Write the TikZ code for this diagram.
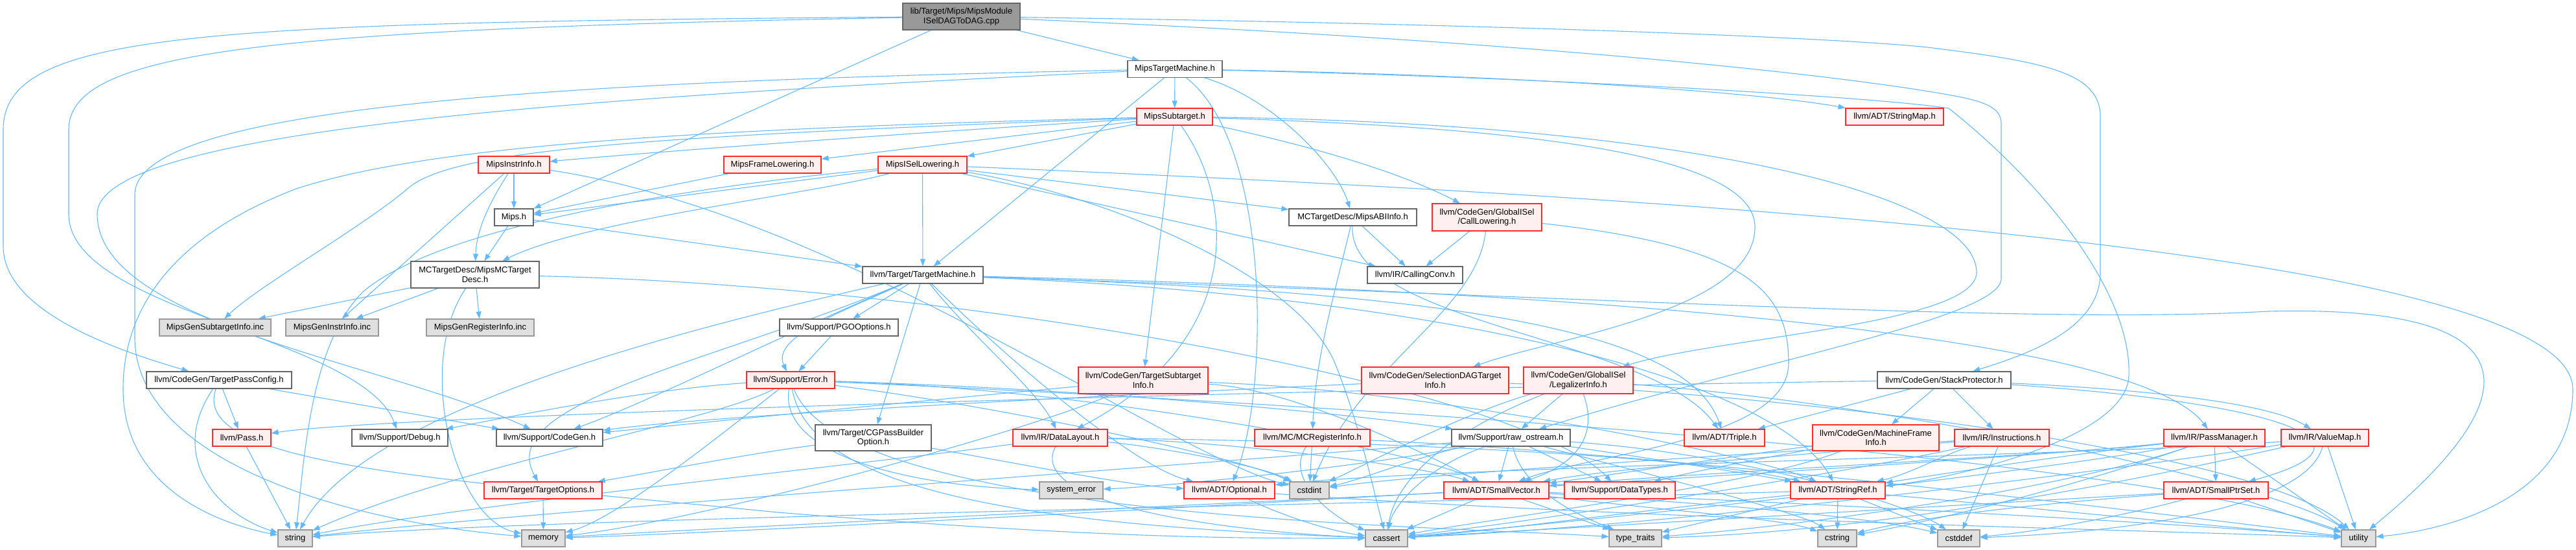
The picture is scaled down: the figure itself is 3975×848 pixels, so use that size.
\documentclass[tikz,border=0pt]{standalone}
\usepackage{fontspec}
\setmainfont{Liberation Sans}
\usetikzlibrary{arrows.meta}
\definecolor{linkblue}{HTML}{63B8FF}
\definecolor{rimred}{HTML}{FF2A2A}
\definecolor{redfill}{HTML}{FFF0F0}
\definecolor{rimgrey}{HTML}{666666}
\definecolor{sysrim}{HTML}{999999}
\definecolor{sysfill}{HTML}{E0E0E0}
\pgfdeclarelayer{background}
\pgfsetlayers{background,main}

\begin{document}
\begin{tikzpicture}[x=1pt, y=-1pt, font=\fontsize{13}{14.5}\selectfont,
  box/.style={draw=rimgrey, fill=white, line width=1.2pt, minimum height=26pt,
              inner sep=1pt, align=center},
  redbox/.style={box, draw=rimred, fill=redfill},
  sysbox/.style={box, draw=sysrim, fill=sysfill},
  rootbox/.style={box, fill=sysrim},
  arr/.style={-{Triangle[length=11pt,width=8pt]}, line width=1.1pt, draw=linkblue}
]
\useasboundingbox (0,0) rectangle (3975,848);

\node[rootbox, minimum width=181pt, minimum height=41pt] (root) at (1483.5,25.5) {lib/Target/Mips/MipsModule\\ISelDAGToDAG.cpp};
\node[box, minimum width=146pt] (mtm) at (1813,106.5) {MipsTargetMachine.h};
\node[redbox, minimum width=117pt] (sub) at (1812.5,180) {MipsSubtarget.h};
\node[redbox, minimum width=151pt] (smap) at (2923.5,180) {llvm/ADT/StringMap.h};
\node[redbox, minimum width=110pt] (iinfo) at (793,254) {MipsInstrInfo.h};
\node[redbox, minimum width=150pt] (frame) at (1192,254) {MipsFrameLowering.h};
\node[redbox, minimum width=137pt] (isel) at (1423.5,254) {MipsISelLowering.h};
\node[box, minimum width=60pt] (mipsh) at (793,335) {Mips.h};
\node[box, minimum width=198pt, minimum height=41pt] (mcdesc) at (733,423.5) {MCTargetDesc/MipsMCTarget\\Desc.h};
\node[sysbox, minimum width=172pt] (gsub) at (332,505) {MipsGenSubtargetInfo.inc};
\node[sysbox, minimum width=143pt] (ginstr) at (512.5,505) {MipsGenInstrInfo.inc};
\node[sysbox, minimum width=166pt] (greg) at (741,505) {MipsGenRegisterInfo.inc};
\node[box, minimum width=186pt] (tm) at (1424,424) {llvm/Target/TargetMachine.h};
\node[box, minimum width=183pt] (pgo) at (1294.5,505) {llvm/Support/PGOOptions.h};
\node[box, minimum width=197pt] (abi) at (2087.5,335) {MCTargetDesc/MipsABIInfo.h};
\node[redbox, minimum width=169pt, minimum height=42pt] (callow) at (2294.5,335) {llvm/CodeGen/GlobalISel\\/CallLowering.h};
\node[box, minimum width=147pt] (ccv) at (2183.5,424) {llvm/IR/CallingConv.h};
\node[box, minimum width=224pt] (tpc) at (338,586) {llvm/CodeGen/TargetPassConfig.h};
\node[redbox, minimum width=90pt] (pass) at (373,675) {llvm/Pass.h};
\node[box, minimum width=148pt] (debug) at (617,675) {llvm/Support/Debug.h};
\node[box, minimum width=164pt] (cgen) at (848,675) {llvm/Support/CodeGen.h};
\node[redbox, minimum width=182pt] (topt) at (838,756) {llvm/Target/TargetOptions.h};
\node[sysbox, minimum width=53pt] (string) at (455.5,830) {string};
\node[sysbox, minimum width=67pt] (memory) at (838.5,830) {memory};
\node[redbox, minimum width=136pt] (error) at (1220,586) {llvm/Support/Error.h};
\node[redbox, minimum width=200pt, minimum height=41pt] (tsi) at (1764,586.5) {llvm/CodeGen/TargetSubtarget\\Info.h};
\node[box, minimum width=179pt, minimum height=40pt] (cgpb) at (1347.5,675) {llvm/Target/CGPassBuilder\\Option.h};
\node[redbox, minimum width=146pt] (dl) at (1636,675) {llvm/IR/DataLayout.h};
\node[sysbox, minimum width=98pt] (syserr) at (1653,756) {system\_error};
\node[redbox, minimum width=140pt] (opt) at (1897,756) {llvm/ADT/Optional.h};
\node[redbox, minimum width=178pt] (mcreg) at (2025,675) {llvm/MC/MCRegisterInfo.h};
\node[redbox, minimum width=227pt, minimum height=41pt] (sdag) at (2214.5,586.5) {llvm/CodeGen/SelectionDAGTarget\\Info.h};
\node[redbox, minimum width=169pt, minimum height=41pt] (legal) at (2435.5,586.5) {llvm/CodeGen/GlobalISel\\/LegalizerInfo.h};
\node[box, minimum width=206pt] (stack) at (3000,586) {llvm/CodeGen/StackProtector.h};
\node[box, minimum width=183pt] (raw) at (2331.5,675) {llvm/Support/raw\_ostream.h};
\node[redbox, minimum width=124pt] (triple) at (2661,675) {llvm/ADT/Triple.h};
\node[redbox, minimum width=195pt, minimum height=40pt] (mfi) at (2894.5,675) {llvm/CodeGen/MachineFrame\\Info.h};
\node[sysbox, minimum width=61pt] (cstdint) at (2020.5,756) {cstdint};
\node[redbox, minimum width=162pt] (svec) at (2309,756) {llvm/ADT/SmallVector.h};
\node[redbox, minimum width=171pt] (dtypes) at (2499.5,756) {llvm/Support/DataTypes.h};
\node[redbox, minimum width=146pt] (sref) at (2836,756) {llvm/ADT/StringRef.h};
\node[sysbox, minimum width=65pt] (cassert) at (2139.5,830) {cassert};
\node[sysbox, minimum width=81pt] (ttraits) at (2523.5,830) {type\_traits};
\node[sysbox, minimum width=60pt] (cstring) at (2835,830) {cstring};
\node[redbox, minimum width=146pt] (instr) at (3089,675) {llvm/IR/Instructions.h};
\node[redbox, minimum width=156pt] (pm) at (3417,675) {llvm/IR/PassManager.h};
\node[redbox, minimum width=135pt] (vmap) at (3587.5,675) {llvm/IR/ValueMap.h};
\node[redbox, minimum width=161pt] (sptr) at (3419.5,756) {llvm/ADT/SmallPtrSet.h};
\node[sysbox, minimum width=65pt] (cstddef) at (3022.5,830) {cstddef};
\node[sysbox, minimum width=53pt] (utility) at (3639.5,830) {utility};

\begin{pgfonlayer}{background}
\draw[arr] (root) .. controls (300,35) and (5,50) .. (5,200) -- (5,380) .. controls (5,480) and (180,540) .. (tpc);
\draw[arr] (root) .. controls (400,45) and (106,80) .. (106,200) -- (106,330) .. controls (106,480) and (560,520) .. (debug);
\draw[arr] (root) -- (mipsh);
\draw[arr] (root) -- (mtm);
\draw[arr] (root) .. controls (2200,35) and (2800,55) .. (2975,73) .. controls (3150,95) and (3241,110) .. (3241,180) -- (3241,420) .. controls (3241,500) and (3150,540) .. (stack);
\draw[arr] (root) .. controls (2300,60) and (2800,110) .. (3000,145) .. controls (3060,155) and (3088,165) .. (3088,190) -- (3088,430) .. controls (3088,490) and (2700,560) .. (raw);

\draw[arr] (mtm) -- (sub);
\draw[arr] (mtm) -- (tm);
\draw[arr] (mtm) .. controls (1960,220) and (1960,600) .. (opt);
\draw[arr] (mtm) .. controls (1960,150) and (2060,250) .. (abi);
\draw[arr] (mtm) .. controls (2300,115) and (2700,140) .. (smap);
\draw[arr] (mtm) .. controls (2400,120) and (2900,150) .. (3007,167) .. controls (3150,280) and (3290,450) .. (3285,580) .. controls (3280,680) and (3000,740) .. (sref);
\draw[arr] (mtm) .. controls (900,125) and (208,160) .. (208,300) -- (208,520) .. controls (208,700) and (500,800) .. (memory);
\draw[arr] (mtm) .. controls (900,150) and (150,200) .. (150,330) .. controls (150,500) and (600,560) .. (cgen);

\draw[arr] (sub) -- (frame);
\draw[arr] (sub) -- (isel);
\draw[arr] (sub) .. controls (1400,205) and (1000,235) .. (iinfo);
\draw[arr] (sub) .. controls (1000,210) and (700,230) .. (630,290) .. controls (560,350) and (400,440) .. (gsub);
\draw[arr] (sub) .. controls (1000,200) and (650,230) .. (460,290) .. controls (300,350) and (190,450) .. (190,600) .. controls (190,760) and (350,810) .. (string);
\draw[arr] (sub) .. controls (2000,220) and (2150,260) .. (callow);
\draw[arr] (sub) .. controls (2300,195) and (2708,230) .. (2708,350) .. controls (2708,480) and (2400,520) .. (sdag);
\draw[arr] (sub) .. controls (2600,190) and (3050,300) .. (3050,420) .. controls (3050,500) and (2650,520) .. (legal);
\draw[arr] (sub) -- (tsi);
\draw[arr] (sub) .. controls (1900,300) and (1930,520) .. (dl);

\draw[arr] (frame) -- (mipsh);
\draw[arr] (iinfo) -- (mipsh);
\draw[arr] (iinfo) .. controls (750,320) and (735,360) .. (mcdesc);
\draw[arr] (iinfo) -- (ginstr);
\draw[arr] (iinfo) .. controls (1300,330) and (1800,700) .. (cstdint);
\draw[arr] (isel) -- (mipsh);
\draw[arr] (isel) .. controls (1250,300) and (900,340) .. (mcdesc);
\draw[arr] (isel) -- (tm);
\draw[arr] (isel) -- (abi);
\draw[arr] (isel) -- (ccv);
\draw[arr] (isel) .. controls (2500,300) and (3970,380) .. (3970,600) .. controls (3970,780) and (3750,820) .. (utility);
\draw[arr] (isel) .. controls (1200,275) and (700,330) .. (560,450) .. controls (480,530) and (470,700) .. (string);
\draw[arr] (isel) .. controls (1700,300) and (2000,420) .. (2060,560) .. controls (2100,660) and (2120,760) .. (cassert);
\draw[arr] (mipsh) -- (mcdesc);
\draw[arr] (mipsh) -- (tm);
\draw[arr] (mcdesc) -- (gsub);
\draw[arr] (mcdesc) -- (ginstr);
\draw[arr] (mcdesc) -- (greg);
\draw[arr] (mcdesc) .. controls (640,560) and (700,800) .. (memory);
\draw[arr] (mcdesc) .. controls (1500,440) and (2350,600) .. (dtypes);

\draw[arr] (tm) -- (pgo);
\draw[arr] (tm) .. controls (1300,480) and (1190,520) .. (error);
\draw[arr] (tm) -- (cgpb);
\draw[arr] (tm) .. controls (1500,520) and (1600,600) .. (dl);
\draw[arr] (tm) .. controls (1000,520) and (560,640) .. (string);
\draw[arr] (tm) .. controls (1200,520) and (1000,620) .. (cgen);
\draw[arr] (tm) .. controls (1100,560) and (760,620) .. (topt);
\draw[arr] (tm) .. controls (1550,550) and (1750,720) .. (opt);
\draw[arr] (tm) .. controls (2200,450) and (2600,500) .. (triple);
\draw[arr] (tm) .. controls (2300,460) and (2750,600) .. (sref);
\draw[arr] (tm) .. controls (2500,450) and (3300,520) .. (pm);
\draw[arr] (tm) .. controls (2500,460) and (3150,500) .. (3500,480) .. controls (3900,470) and (3920,600) .. (utility);

\draw[arr] (pgo) -- (error);
\draw[arr] (abi) -- (ccv);
\draw[arr] (abi) .. controls (2060,450) and (2030,550) .. (mcreg);
\draw[arr] (abi) .. controls (2080,500) and (2550,520) .. (triple);
\draw[arr] (callow) -- (ccv);
\draw[arr] (callow) .. controls (2280,480) and (2100,560) .. (cstdint);
\draw[arr] (callow) .. controls (2700,380) and (2760,450) .. (2760,560) .. controls (2760,680) and (2450,700) .. (svec);
\draw[arr] (tpc) -- (pass);
\draw[arr] (tpc) -- (cgen);
\draw[arr] (tpc) .. controls (260,700) and (330,790) .. (string);
\draw[arr] (tpc) .. controls (290,720) and (700,740) .. (1200,790) .. controls (1700,830) and (1900,830) .. (cassert);
\draw[arr] (pass) -- (string);
\draw[arr] (topt) -- (memory);

\draw[arr] (error) .. controls (1000,600) and (800,640) .. (debug);
\draw[arr] (error) .. controls (1100,650) and (700,720) .. (string);
\draw[arr] (error) .. controls (1100,680) and (950,800) .. (memory);
\draw[arr] (error) .. controls (1200,700) and (1400,750) .. (syserr);
\draw[arr] (error) .. controls (1250,760) and (1600,810) .. (cassert);
\draw[arr] (error) .. controls (1500,620) and (1900,700) .. (cstdint);
\draw[arr] (error) .. controls (1700,600) and (2200,700) .. (svec);
\draw[arr] (error) .. controls (1700,600) and (2100,640) .. (raw);
\draw[arr] (error) .. controls (1300,800) and (2200,810) .. (ttraits);
\draw[arr] (error) .. controls (2000,620) and (3300,700) .. (utility);

\draw[arr] (tsi) .. controls (1400,620) and (1100,650) .. (cgen);
\draw[arr] (tsi) .. controls (1600,660) and (1100,800) .. (memory);
\draw[arr] (tsi) .. controls (2000,600) and (2200,700) .. (svec);
\draw[arr] (tsi) .. controls (2200,600) and (2700,700) .. (sref);
\draw[arr] (cgpb) .. controls (1150,700) and (1000,730) .. (topt);
\draw[arr] (cgpb) .. controls (1600,720) and (1750,750) .. (opt);

\draw[arr] (dl) .. controls (1300,720) and (700,780) .. (string);
\draw[arr] (dl) .. controls (1580,780) and (1900,820) .. (cassert);
\draw[arr] (dl) .. controls (1800,690) and (1950,720) .. (cstdint);
\draw[arr] (dl) .. controls (1900,680) and (2200,720) .. (svec);
\draw[arr] (dl) .. controls (2100,680) and (2600,700) .. (sref);
\draw[arr] (opt) .. controls (1990,800) and (2060,820) .. (cassert);
\draw[arr] (opt) .. controls (2500,800) and (3400,820) .. (utility);
\draw[arr] (mcreg) -- (cstdint);
\draw[arr] (mcreg) .. controls (1980,740) and (2060,800) .. (cassert);
\draw[arr] (mcreg) .. controls (2600,700) and (3400,800) .. (utility);
\draw[arr] (sdag) .. controls (1700,610) and (1100,640) .. (cgen);
\draw[arr] (sdag) .. controls (2800,610) and (3500,700) .. (utility);
\draw[arr] (legal) -- (raw);
\draw[arr] (legal) .. controls (2470,680) and (2420,720) .. (svec);
\draw[arr] (legal) .. controls (2250,640) and (2100,720) .. (cstdint);
\draw[arr] (legal) .. controls (2200,680) and (2150,760) .. (cassert);
\draw[arr] (legal) .. controls (2900,620) and (3500,740) .. (utility);

\draw[arr] (stack) .. controls (2000,600) and (600,640) .. (pass);
\draw[arr] (stack) -- (triple);
\draw[arr] (stack) -- (mfi);
\draw[arr] (stack) -- (instr);
\draw[arr] (stack) .. controls (3300,600) and (3500,620) .. (vmap);
\draw[arr] (stack) .. controls (3500,620) and (3700,680) .. (sptr);

\draw[arr] (raw) -- (svec);
\draw[arr] (raw) -- (dtypes);
\draw[arr] (raw) .. controls (2500,700) and (2700,730) .. (sref);
\draw[arr] (raw) .. controls (2200,720) and (2150,780) .. (cassert);
\draw[arr] (raw) .. controls (2700,700) and (2950,780) .. (cstddef);
\draw[arr] (raw) .. controls (2200,700) and (2100,740) .. (cstdint);
\draw[arr] (raw) .. controls (2500,720) and (2780,790) .. (cstring);
\draw[arr] (raw) .. controls (1800,720) and (800,790) .. (string);
\draw[arr] (raw) .. controls (2100,720) and (1800,750) .. (syserr);
\draw[arr] (raw) .. controls (2350,760) and (2450,800) .. (ttraits);

\draw[arr] (mfi) .. controls (2700,700) and (2500,730) .. (svec);
\draw[arr] (mfi) .. controls (2700,710) and (2600,730) .. (dtypes);
\draw[arr] (mfi) .. controls (2700,750) and (2300,800) .. (cassert);
\draw[arr] (svec) -- (cassert);
\draw[arr] (svec) -- (ttraits);
\draw[arr] (svec) .. controls (2600,790) and (2750,800) .. (cstring);
\draw[arr] (svec) .. controls (2700,780) and (2900,800) .. (cstddef);
\draw[arr] (svec) .. controls (2900,780) and (3400,810) .. (utility);
\draw[arr] (svec) .. controls (1800,780) and (1000,820) .. (memory);
\draw[arr] (sref) -- (cstring);
\draw[arr] (sref) -- (cstddef);
\draw[arr] (sref) .. controls (2500,790) and (2300,820) .. (cassert);
\draw[arr] (sref) -- (ttraits);
\draw[arr] (sref) .. controls (2000,780) and (800,800) .. (string);
\draw[arr] (sref) .. controls (3100,780) and (3400,810) .. (utility);

\draw[arr] (instr) .. controls (2800,700) and (2500,720) .. (svec);
\draw[arr] (instr) .. controls (3000,700) and (2950,730) .. (sref);
\draw[arr] (instr) .. controls (2900,720) and (2400,800) .. (cassert);
\draw[arr] (instr) -- (cstddef);
\draw[arr] (instr) .. controls (2700,700) and (2200,730) .. (cstdint);
\draw[arr] (pm) -- (sptr);
\draw[arr] (pm) -- (utility);
\draw[arr] (pm) .. controls (3200,700) and (2600,730) .. (svec);
\draw[arr] (pm) .. controls (3200,700) and (3000,730) .. (sref);
\draw[arr] (pm) .. controls (3200,720) and (2500,800) .. (cassert);
\draw[arr] (pm) .. controls (3200,750) and (3000,800) .. (cstring);
\draw[arr] (pm) .. controls (3000,720) and (1200,820) .. (memory);
\draw[arr] (pm) .. controls (3200,750) and (2800,810) .. (ttraits);
\draw[arr] (vmap) .. controls (3300,700) and (2200,720) .. (opt);
\draw[arr] (vmap) .. controls (3300,720) and (2600,810) .. (cassert);
\draw[arr] (vmap) .. controls (3560,780) and (3300,820) .. (cstddef);
\draw[arr] (vmap) .. controls (3300,740) and (2900,820) .. (ttraits);
\draw[arr] (vmap) -- (utility);
\draw[arr] (sptr) .. controls (3000,780) and (2500,810) .. (cassert);
\draw[arr] (sptr) .. controls (3300,790) and (3150,820) .. (cstddef);
\draw[arr] (sptr) .. controls (3100,780) and (2950,800) .. (cstring);
\draw[arr] (sptr) -- (utility);
\end{pgfonlayer}
\end{tikzpicture}
\end{document}
